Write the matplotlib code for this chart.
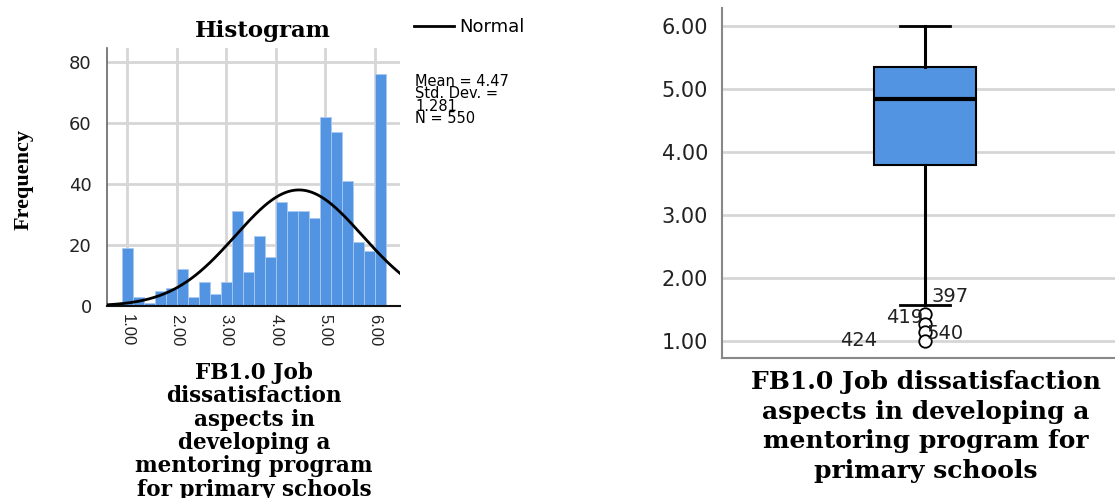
import numpy as np
import matplotlib
matplotlib.use("Agg")
import matplotlib.pyplot as plt
from matplotlib.lines import Line2D

# Histogram of FB1.0 scores (bin counts) and summary statistics
bin_start = 0.8889
bin_width = 0.2222
counts = [19, 3, 1, 5, 6, 12, 3, 8, 4, 8, 31, 11, 23, 16, 34, 31, 31, 29,
          62, 57, 41, 21, 18, 76]
mean_val = 4.47
sd_val = 1.281
n_val = 550
hist_xticks = [1, 2, 3, 4, 5, 6]
hist_yticks = [0, 20, 40, 60, 80]

# Boxplot five-number summary and labelled outliers
box_q1 = 3.79
box_median = 4.83
box_q3 = 5.34
whisker_low = 1.57
whisker_high = 6.00
outlier_values = [1.43, 1.27, 1.13, 1.00]
outlier_ids = ["397", "419", "540", "424"]
box_yticks = [1, 2, 3, 4, 5, 6]

BLUE = "#5294e2"
GRID = "#d6d6d6"
SANS = "DejaVu Sans"

fig = plt.figure(figsize=(11.15, 4.98), dpi=100)

# ---------------- Histogram ----------------
ax = fig.add_axes([107 / 1115, 1 - 306 / 498, 293 / 1115, 258 / 498])
edges = bin_start + bin_width * np.arange(len(counts) + 1)
ax.bar(edges[:-1], counts, width=bin_width, align="edge", color=BLUE,
       edgecolor="#a9c9f0", linewidth=0.6, zorder=2)
xmin, xmax = 0.596, 6.51
xs = np.linspace(xmin, xmax, 400)
pdf = np.exp(-0.5 * ((xs - mean_val) / sd_val) ** 2) / (sd_val * np.sqrt(2 * np.pi))
ax.plot(xs, n_val * bin_width * pdf, color="black", lw=2.0, zorder=3)
ax.set_xlim(xmin, xmax)
ax.set_ylim(0, 84.6)
ax.set_xticks(hist_xticks)
ax.set_xticklabels([f"{v:.2f}" for v in hist_xticks], rotation=-90,
                   fontsize=12, family="Liberation Sans", color="#222222")
ax.set_yticks(hist_yticks)
ax.set_yticklabels([str(v) for v in hist_yticks], fontsize=13,
                   family=SANS, color="#222222")
ax.tick_params(length=0, pad=11)
ax.tick_params(axis="x", pad=6)
ax.grid(True, color=GRID, lw=2.0, zorder=0)
ax.set_axisbelow(True)
for s in ["top", "right"]:
    ax.spines[s].set_visible(False)
ax.spines["left"].set_color("#666666")
ax.spines["left"].set_linewidth(1.2)
ax.spines["bottom"].set_color("#111111")
ax.spines["bottom"].set_linewidth(1.5)
ax.set_ylabel("Frequency", family="Liberation Serif", fontweight="bold",
              fontsize=16)
ax.yaxis.set_label_coords(-0.25, 0.49)
fig.text(263 / 1115, 1 - 31 / 498, "Histogram", family="DejaVu Serif",
         fontweight="bold", fontsize=16.5, ha="center", va="center")

hist_label = "FB1.0 Job\ndissatisfaction\naspects in\ndeveloping a\nmentoring program\nfor primary schools"
fig.text(254 / 1115, 1 - 362 / 498, hist_label, family="DejaVu Serif",
         fontweight="bold", fontsize=15.5, ha="center", va="top",
         linespacing=1.08)

# legend and statistics box
fig.legend(handles=[Line2D([], [], color="black", lw=2.0)], labels=["Normal"],
           loc="center left", bbox_to_anchor=(398 / 1115, 1 - 27 / 498),
           frameon=False, handlelength=2.2, handletextpad=0.3,
           prop={"family": SANS, "size": 13})
fig.text(415 / 1115, 1 - 74 / 498,
         f"Mean = {mean_val:.2f}\nStd. Dev. =\n{sd_val:.3f}\nN = {n_val}",
         family=SANS, fontsize=10.5, ha="left", va="top",
         linespacing=0.78)

# ---------------- Boxplot ----------------
bx = fig.add_axes([722 / 1115, 1 - 358 / 498, 393 / 1115, 350 / 498])
stats = [{"med": box_median, "q1": box_q1, "q3": box_q3,
          "whislo": whisker_low, "whishi": whisker_high,
          "fliers": outlier_values}]
bx.bxp(stats, positions=[1], widths=0.502, capwidths=0.25, patch_artist=True,
       boxprops=dict(facecolor=BLUE, edgecolor="black", linewidth=1.5),
       medianprops=dict(color="black", linewidth=3.0),
       whiskerprops=dict(color="black", linewidth=2.2),
       capprops=dict(color="black", linewidth=2.0),
       flierprops=dict(marker="o", markersize=9, markerfacecolor="white",
                       markeredgecolor="black", markeredgewidth=1.3),
       zorder=3)
bx.set_xlim(0, 1.936)
bx.set_ylim(0.725, 6.28)
bx.set_xticks([])
bx.set_yticks(box_yticks)
bx.set_yticklabels([f"{v:.2f}" for v in box_yticks], fontsize=15,
                   family=SANS, color="#222222")
bx.tick_params(length=0, pad=10)
bx.yaxis.grid(True, color=GRID, lw=2.0, zorder=0)
bx.set_axisbelow(True)
for s in ["top", "right"]:
    bx.spines[s].set_visible(False)
for s in ["left", "bottom"]:
    bx.spines[s].set_color("#888888")
    bx.spines[s].set_linewidth(1.5)

# case-number labels beside the outliers
offsets = [(7, 17, "left"), (-2, 6, "right"), (2, -1, "left"), (-48, 0, "right")]
for val, cid, (dx, dy, ha) in zip(outlier_values, outlier_ids, offsets):
    bx.annotate(cid, (1, val), xytext=(dx, dy), textcoords="offset pixels",
                ha=ha, va="center", fontsize=14, family=SANS,
                color="#222222", zorder=4)

box_label = "FB1.0 Job dissatisfaction\naspects in developing a\nmentoring program for\nprimary schools"
fig.text(926 / 1115, 1 - 370 / 498, box_label, family="DejaVu Serif",
         fontweight="bold", fontsize=18, ha="center", va="top",
         linespacing=1.3)

fig.savefig("out.png", dpi=100)
